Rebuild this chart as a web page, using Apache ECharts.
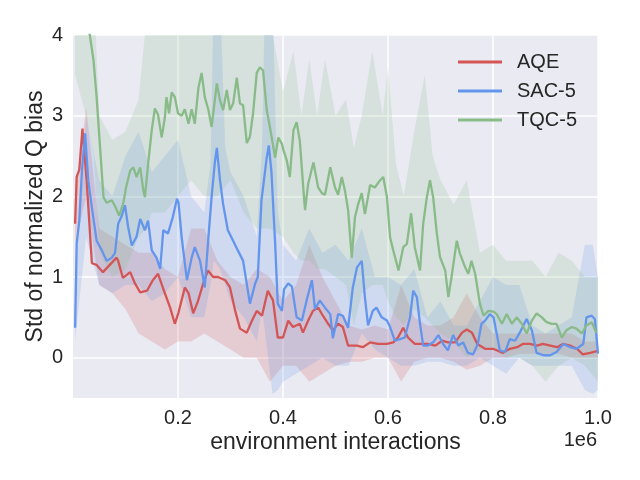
<!DOCTYPE html>
<html>
<head>
<meta charset="utf-8">
<script src="https://cdn.jsdelivr.net/npm/echarts@6/dist/echarts.min.js"></script>
<style>html,body{margin:0;padding:0;background:#fff;}#c{width:640px;height:480px;}</style>
</head>
<body>
<div id="c"></div>
<script>
// ---- data (x in units of 1e6 environment interactions) ----
const seriesNames = ['AQE', 'SAC-5', 'TQC-5'];
const xTicks = [0.2, 0.4, 0.6, 0.8, 1.0];
const yTicks = [0, 1, 2, 3, 4];

const aqeX = [0.004,0.007,0.012,0.018,0.026,0.032,0.036,0.045,0.057,0.070,0.083,0.086,0.095,0.109,0.118,0.128,0.141,0.152,0.162,0.171,0.185,0.194,0.201,0.213,0.220,0.229,0.238,0.248,0.257,0.267,0.276,0.290,0.299,0.309,0.318,0.331,0.341,0.350,0.360,0.371,0.381,0.390,0.400,0.410,0.419,0.432,0.438,0.448,0.457,0.467,0.476,0.486,0.495,0.505,0.514,0.524,0.541,0.552,0.566,0.581,0.598,0.610,0.619,0.629,0.638,0.651,0.665,0.676,0.690,0.703,0.714,0.728,0.741,0.750,0.760,0.770,0.785,0.800,0.819,0.832,0.846,0.857,0.870,0.884,0.895,0.909,0.922,0.933,0.947,0.960,0.971,0.985,0.998];
const aqeY = [1.66,2.24,2.33,2.84,2.20,1.58,1.17,1.15,1.06,1.15,1.24,1.20,0.99,1.06,0.92,0.81,0.83,0.96,1.04,0.87,0.62,0.42,0.56,0.87,0.80,0.55,0.70,0.92,1.08,1.00,1.00,0.96,0.87,0.58,0.36,0.31,0.46,0.58,0.52,0.83,0.71,0.25,0.25,0.46,0.38,0.42,0.31,0.46,0.58,0.62,0.52,0.42,0.34,0.42,0.38,0.15,0.15,0.13,0.19,0.17,0.17,0.19,0.25,0.37,0.25,0.17,0.17,0.17,0.15,0.21,0.19,0.19,0.31,0.35,0.31,0.17,0.11,0.11,0.06,0.11,0.13,0.17,0.17,0.15,0.17,0.15,0.13,0.17,0.15,0.11,0.04,0.06,0.08];

const sacX = [0.004,0.007,0.012,0.017,0.023,0.029,0.036,0.045,0.055,0.064,0.074,0.080,0.086,0.093,0.099,0.105,0.112,0.121,0.128,0.137,0.143,0.150,0.159,0.166,0.172,0.181,0.190,0.198,0.201,0.207,0.217,0.226,0.232,0.242,0.251,0.258,0.264,0.270,0.274,0.280,0.286,0.295,0.305,0.314,0.324,0.337,0.347,0.352,0.359,0.369,0.373,0.378,0.385,0.390,0.398,0.402,0.410,0.417,0.426,0.436,0.445,0.455,0.461,0.470,0.480,0.490,0.495,0.505,0.514,0.524,0.533,0.541,0.550,0.556,0.562,0.571,0.578,0.588,0.598,0.604,0.613,0.623,0.632,0.642,0.648,0.655,0.661,0.667,0.676,0.686,0.696,0.705,0.714,0.724,0.734,0.743,0.752,0.762,0.771,0.778,0.785,0.794,0.801,0.807,0.813,0.823,0.832,0.842,0.851,0.864,0.874,0.883,0.896,0.909,0.921,0.934,0.947,0.959,0.972,0.978,0.988,0.994,1.000];
const sacY = [0.37,1.41,1.70,2.32,2.78,2.20,1.86,1.45,1.33,1.20,1.24,1.30,1.66,1.76,1.89,1.62,1.39,1.50,1.72,1.58,1.70,1.33,1.24,1.10,1.58,1.54,1.74,1.97,1.92,1.49,0.96,1.24,1.37,1.20,0.87,1.50,1.99,2.41,2.60,2.20,1.90,1.58,1.45,1.33,1.20,0.67,0.92,1.00,1.95,2.48,2.63,2.30,1.42,0.67,0.58,0.85,0.92,0.88,0.50,0.46,0.71,0.96,0.60,0.71,0.62,0.54,0.24,0.54,0.52,0.37,0.87,1.12,1.20,0.75,0.40,0.58,0.62,0.50,0.46,0.38,0.21,0.23,0.25,0.50,0.83,0.75,0.42,0.15,0.15,0.19,0.28,0.17,0.09,0.28,0.15,0.19,0.06,0.04,0.17,0.42,0.46,0.54,0.50,0.30,0.09,0.07,0.23,0.21,0.31,0.48,0.34,0.06,0.03,0.03,0.07,0.17,0.13,0.11,0.17,0.50,0.52,0.48,0.05];

const tqcX = [0.004,0.023,0.032,0.039,0.045,0.051,0.058,0.064,0.074,0.080,0.088,0.096,0.101,0.109,0.115,0.121,0.128,0.134,0.137,0.143,0.150,0.156,0.162,0.169,0.175,0.178,0.183,0.188,0.194,0.200,0.207,0.213,0.220,0.226,0.232,0.239,0.245,0.251,0.258,0.264,0.274,0.280,0.286,0.293,0.299,0.305,0.312,0.318,0.324,0.331,0.337,0.343,0.350,0.356,0.362,0.369,0.375,0.385,0.391,0.398,0.401,0.407,0.413,0.420,0.426,0.432,0.439,0.442,0.448,0.458,0.467,0.474,0.480,0.490,0.499,0.505,0.512,0.518,0.524,0.531,0.537,0.543,0.550,0.556,0.566,0.575,0.585,0.591,0.598,0.604,0.610,0.620,0.629,0.636,0.644,0.651,0.661,0.667,0.674,0.680,0.686,0.693,0.699,0.709,0.715,0.721,0.731,0.737,0.747,0.753,0.759,0.766,0.775,0.782,0.791,0.801,0.807,0.817,0.826,0.836,0.845,0.855,0.864,0.874,0.883,0.893,0.902,0.912,0.921,0.931,0.940,0.950,0.959,0.969,0.978,0.988,0.997];
const tqcY = [5.00,4.40,4.00,3.69,3.23,2.66,1.99,1.92,1.95,1.88,1.76,1.92,2.11,2.32,2.36,2.24,2.36,2.07,1.99,2.40,2.82,3.09,3.01,2.73,2.98,3.23,3.03,3.29,3.23,3.03,3.00,3.08,2.90,3.08,2.90,3.35,3.53,3.23,3.07,2.86,3.40,3.19,3.07,3.32,3.07,3.15,3.47,3.15,3.13,2.66,2.74,3.03,3.53,3.60,3.56,3.07,2.86,2.48,2.73,2.65,2.57,2.45,2.24,2.82,2.92,2.69,2.07,1.83,2.16,2.42,2.11,2.04,2.02,2.36,2.11,2.02,2.24,2.07,1.83,1.24,1.74,1.90,2.04,1.78,2.14,2.11,2.20,2.24,1.99,1.49,1.33,1.08,1.37,1.41,1.79,1.37,1.08,1.66,1.99,2.20,1.99,1.54,1.25,1.08,0.75,1.00,1.45,1.29,1.12,1.04,1.20,1.04,0.67,0.52,0.58,0.57,0.54,0.42,0.54,0.42,0.50,0.42,0.30,0.46,0.55,0.50,0.44,0.42,0.42,0.25,0.34,0.38,0.36,0.30,0.40,0.44,0.31];

// shaded spread bands (lower / upper)
const aqeBandX = [0.004,0.025,0.05,0.075,0.1,0.125,0.15,0.175,0.2,0.225,0.25,0.275,0.3,0.325,0.35,0.375,0.4,0.425,0.45,0.475,0.5,0.525,0.55,0.575,0.6,0.625,0.65,0.675,0.7,0.725,0.75,0.775,0.8,0.825,0.85,0.875,0.9,0.925,0.95,0.975,1.0];
const aqeLo = [1.4,2.0,0.9,0.8,0.6,0.3,0.2,0.1,0.2,0.2,0.3,0.2,0.1,0.0,0.0,-0.3,-0.1,-0.1,-0.3,-0.2,-0.1,-0.05,-0.05,0.0,0.0,-0.3,-0.05,0.0,0.0,-0.05,-0.15,-0.1,0.0,0.0,0.05,0.05,0.05,0.05,0.0,0.0,0.0];
const aqeHi = [2.0,3.1,1.6,1.5,1.4,1.3,1.3,1.1,1.0,1.6,1.6,1.2,1.0,0.9,1.1,1.0,0.7,0.9,1.4,1.0,0.7,0.4,0.35,0.4,0.35,0.9,0.5,0.4,0.4,0.5,0.8,0.5,0.3,0.3,0.3,0.3,0.3,0.3,0.3,0.2,0.2];
const sacBandX = [0.004,0.025,0.05,0.075,0.1,0.125,0.15,0.175,0.2,0.225,0.25,0.262,0.268,0.28,0.29,0.3,0.325,0.35,0.36,0.366,0.38,0.39,0.4,0.425,0.45,0.475,0.5,0.525,0.55,0.575,0.6,0.625,0.65,0.675,0.7,0.725,0.75,0.775,0.8,0.825,0.85,0.875,0.9,0.925,0.95,0.975,0.99,1.0];
const sacLo = [0.2,1.5,0.9,0.8,0.9,0.9,0.7,0.8,1.0,0.5,0.5,0.9,1.2,1.1,0.9,0.7,0.5,0.2,0.6,0.3,-0.45,-0.4,-0.3,-0.2,-0.1,0.0,-0.1,-0.1,0.3,0.1,0.0,-0.1,-0.1,-0.05,-0.05,-0.1,-0.1,0.0,-0.1,-0.2,0.0,-0.1,-0.1,-0.1,-0.1,-0.4,-0.45,-0.4];
const sacHi = [1.0,3.0,2.2,2.0,2.5,2.8,2.3,2.5,2.7,2.0,1.8,2.4,4.5,4.5,2.6,2.3,2.0,1.5,2.6,4.5,4.5,1.8,1.4,1.2,1.6,1.3,1.4,1.2,1.6,1.0,1.0,0.9,1.1,0.5,0.7,0.4,0.4,0.7,1.0,0.9,0.9,0.4,0.3,0.4,0.5,1.4,1.4,1.0];
const tqcBandX = [0.004,0.025,0.04,0.05,0.075,0.1,0.125,0.14,0.15,0.175,0.2,0.225,0.25,0.275,0.3,0.325,0.35,0.375,0.4,0.42,0.435,0.45,0.465,0.48,0.5,0.52,0.535,0.55,0.57,0.59,0.6,0.615,0.63,0.65,0.67,0.685,0.7,0.725,0.75,0.775,0.8,0.825,0.85,0.875,0.9,0.925,0.95,0.975,1.0];
const tqcLo = [3.5,3.0,2.5,1.3,1.0,1.1,1.5,1.6,1.8,1.8,2.0,2.2,2.0,2.0,2.2,1.8,1.6,1.6,1.5,1.3,1.2,1.2,1.1,1.1,1.0,0.9,0.4,0.8,0.9,0.9,0.7,0.5,0.4,0.6,0.5,0.4,0.3,0.2,0.0,0.1,0.1,0.0,0.0,-0.1,-0.3,-0.1,0.0,-0.1,-0.3];
const tqcHi = [5.0,5.0,4.5,3.0,2.7,2.8,3.2,4.2,4.5,4.6,4.5,4.6,4.5,4.8,4.6,4.0,4.5,4.2,3.3,3.8,3.0,3.7,3.0,3.7,3.0,3.2,2.6,3.0,3.8,3.0,3.6,2.4,2.0,2.8,3.5,2.5,2.2,1.9,2.2,1.3,1.4,1.2,1.2,1.2,1.0,1.3,1.2,1.0,1.0];

// ---- styling ----
const colors = ['#d45555', '#6495ed', '#88bb88'];
const FONT = 'Liberation Sans, Arial, sans-serif';
const TXT = '#262626';

function zip(xs, ys) { return xs.map((x, i) => [x, ys[i]]); }

function bandSeries(name, xs, lo, hi, color) {
  return {
    type: 'custom', name: name + '-band', silent: true, clip: true, z: 1,
    data: [[xs[0], lo[0]]],
    renderItem: function (params, api) {
      const pts = [];
      for (let i = 0; i < xs.length; i++) pts.push(api.coord([xs[i], hi[i]]));
      for (let i = xs.length - 1; i >= 0; i--) pts.push(api.coord([xs[i], lo[i]]));
      return { type: 'polygon', shape: { points: pts }, style: { fill: color, opacity: 0.2 } };
    }
  };
}
function lineSeries(name, xs, ys, color) {
  return {
    type: 'line', name: name, data: zip(xs, ys), showSymbol: false, symbol: 'none',
    clip: true, z: 3, lineStyle: { color: color, width: 2.3 }, itemStyle: { color: color }
  };
}

const chart = echarts.init(document.getElementById('c'), null, { renderer: 'canvas' });
chart.setOption({
  animation: false,
  backgroundColor: '#ffffff',
  textStyle: { fontFamily: FONT },
  grid: { left: 73, right: 42, top: 35, bottom: 82, show: true, backgroundColor: '#eaeaf2', borderWidth: 0 },
  legend: {
    data: seriesNames, orient: 'vertical', left: 453, top: 47,
    icon: 'rect', itemWidth: 44, itemHeight: 3, itemGap: 9,
    textStyle: { fontFamily: FONT, fontSize: 20, color: TXT, lineHeight: 20, padding: [0, 0, 0, 10] }
  },
  xAxis: {
    type: 'value', min: 0, max: 1, interval: 0.2,
    name: 'environment interactions', nameLocation: 'middle', nameGap: 33, nameMoveOverlap: false,
    nameTextStyle: { fontFamily: FONT, fontSize: 23, color: TXT },
    axisLine: { show: false }, axisTick: { show: false, customValues: xTicks },
    axisLabel: { customValues: xTicks, formatter: v => v.toFixed(1), fontFamily: FONT, fontSize: 20, color: TXT, margin: 10 },
    splitLine: { show: true, lineStyle: { color: '#ffffff', width: 1.5 } }
  },
  yAxis: {
    type: 'value', min: -0.5, max: 4,
    name: 'Std of normalized Q bias', nameLocation: 'middle', nameGap: 26, nameMoveOverlap: false,
    nameTextStyle: { fontFamily: FONT, fontSize: 23, color: TXT },
    axisLine: { show: false }, axisTick: { show: false, customValues: yTicks },
    axisLabel: { customValues: yTicks, fontFamily: FONT, fontSize: 20, color: TXT, margin: 10 },
    splitLine: { show: true, lineStyle: { color: '#ffffff', width: 1.5 } }
  },
  graphic: [{
    type: 'text', right: 43, top: 430,
    style: { text: '1e6', font: '20px ' + FONT, fill: TXT }
  }],
  series: [
    bandSeries('AQE', aqeBandX, aqeLo, aqeHi, colors[0]),
    bandSeries('SAC-5', sacBandX, sacLo, sacHi, colors[1]),
    bandSeries('TQC-5', tqcBandX, tqcLo, tqcHi, colors[2]),
    lineSeries('AQE', aqeX, aqeY, colors[0]),
    lineSeries('SAC-5', sacX, sacY, colors[1]),
    lineSeries('TQC-5', tqcX, tqcY, colors[2])
  ]
});
</script>
</body>
</html>
